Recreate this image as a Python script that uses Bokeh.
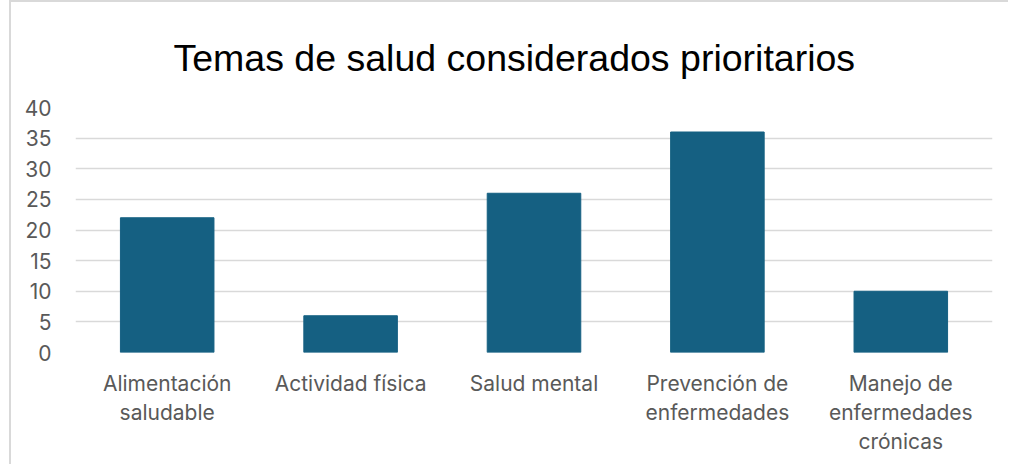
from bokeh.plotting import figure
from bokeh.models import Range1d, SingleIntervalTicker, LinearAxis, FixedTicker
from bokeh.embed import file_html
from bokeh.resources import INLINE

categories = ["Alimentación saludable", "Actividad física", "Salud mental",
              "Prevención de enfermedades", "Manejo de enfermedades crónicas"]
label_lines = [["Alimentación", "saludable"], ["Actividad física"], ["Salud mental"],
               ["Prevención de", "enfermedades"], ["Manejo de", "enfermedades", "crónicas"]]
values = [22, 6, 26, 36, 10]

# each category occupies one unit slot; bars are centred in their slot
slot_centers = [i + 0.5 for i in range(len(categories))]

p = figure(x_range=Range1d(0, len(categories)), y_range=(0, 40),
           width=999, height=464, output_backend="svg", toolbar_location=None,
           title="Temas de salud considerados prioritarios",
           min_border_left=64, min_border_right=18, min_border_top=105,
           min_border_bottom=114)
p.margin = (0, 0, 0, 9)
p.styles = {"border-left": "2px solid #d9d9d9", "border-top": "2px solid #d9d9d9"}

p.vbar(x=slot_centers, top=values, width=0.51, color="#156082")

p.title.align = "left"
p.title.offset = 98
p.title.text_font = "Liberation Sans"
p.title.text_font_size = "37.5px"
p.title.text_font_style = "normal"
p.title.text_color = "#000000"
p.title.standoff = 58

p.outline_line_color = None
p.xgrid.grid_line_color = None
p.ygrid.grid_line_color = "#d9d9d9"
p.ygrid.grid_line_width = 1.5

# x labels: one axis per text line
p.xaxis.visible = False
for i in range(3):
    ticks = [c for c, ls in zip(slot_centers, label_lines) if i < len(ls)]
    overrides = {c: ls[i] for c, ls in zip(slot_centers, label_lines) if i < len(ls)}
    ax = LinearAxis(ticker=FixedTicker(ticks=ticks, minor_ticks=[]))
    ax.major_label_overrides = overrides
    ax.axis_line_color = None
    ax.major_tick_line_color = None
    ax.minor_tick_line_color = None
    ax.major_tick_out = 0
    ax.minor_tick_out = 0
    ax.major_label_text_font = "Inter"
    ax.major_label_text_font_size = "21px"
    ax.major_label_text_color = "#595959"
    ax.major_label_standoff = 18 if i == 0 else 1
    p.add_layout(ax, "below")

p.yaxis.ticker = SingleIntervalTicker(interval=5)
p.yaxis.axis_line_color = None
p.yaxis.major_tick_line_color = None
p.yaxis.minor_tick_line_color = None
p.yaxis.major_label_text_font = "Inter"
p.yaxis.major_label_text_font_size = "21px"
p.yaxis.major_label_text_color = "#595959"
p.yaxis.major_label_standoff = 18

open("out.html", "w").write(file_html(p, INLINE))
